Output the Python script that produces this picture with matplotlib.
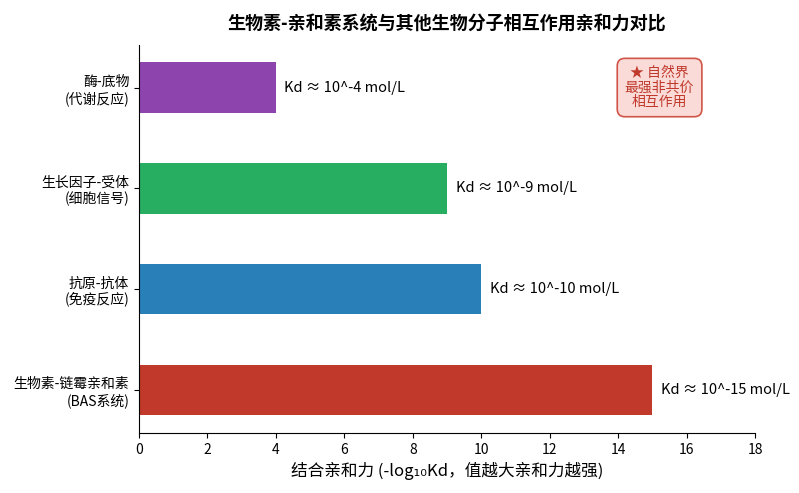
import matplotlib.pyplot as plt

plt.rcParams['font.family'] = ['Noto Sans CJK SC', 'DejaVu Sans']
plt.rcParams['axes.unicode_minus'] = False

pairs = ['生物素-链霉亲和素\n(BAS系统)', '抗原-抗体\n(免疫反应)',
         '生长因子-受体\n(细胞信号)', '酶-底物\n(代谢反应)']
affinity = [15, 10, 9, 4]
kd_labels = ['Kd ≈ 10^-15 mol/L', 'Kd ≈ 10^-10 mol/L',
             'Kd ≈ 10^-9 mol/L', 'Kd ≈ 10^-4 mol/L']
colors = ['#c0392b', '#2980b9', '#27ae60', '#8e44ad']

fig, ax = plt.subplots(figsize=(7.99, 4.93), dpi=100)
fig.subplots_adjust(left=0.174, right=0.945, top=0.909, bottom=0.122)

ypos = range(len(pairs))
ax.barh(ypos, affinity, height=0.5, color=colors)
for y, v, lab in zip(ypos, affinity, kd_labels):
    ax.text(v + 0.25, y, lab, va='center', ha='left', fontsize=10.5)

ax.set_yticks(list(ypos))
ax.set_yticklabels(pairs, fontsize=10)
ax.set_xlim(0, 18)
ax.set_xticks(range(0, 19, 2))
ax.tick_params(axis='x', labelsize=10)
ax.set_xlabel('结合亲和力 (-log₁₀Kd，值越大亲和力越强)', fontsize=12)
ax.set_title('生物素-亲和素系统与其他生物分子相互作用亲和力对比',
             fontsize=13, fontweight='bold', pad=12)
ax.spines['top'].set_visible(False)
ax.spines['right'].set_visible(False)

ax.text(0.845, 0.89, '★ 自然界\n最强非共价\n相互作用', transform=ax.transAxes,
        ha='center', va='center', fontsize=10, color='#c0392b',
        linespacing=1.05,
        bbox=dict(boxstyle='round,pad=0.55', facecolor='#fadbd8',
                  edgecolor='#d05548', linewidth=1.2))

plt.savefig('out.png', dpi=100)
